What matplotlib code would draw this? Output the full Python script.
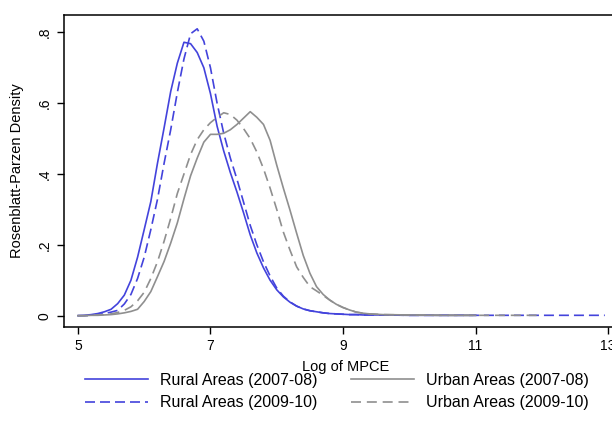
import matplotlib
matplotlib.use("Agg")
import matplotlib.pyplot as plt

# x grid (log of MPCE) and density values
x_body = [5.0, 5.1, 5.2, 5.3, 5.4, 5.5, 5.6, 5.7, 5.8, 5.9,
          6.0, 6.1, 6.2, 6.3, 6.4, 6.5, 6.6, 6.7, 6.8, 6.9,
          7.0, 7.1, 7.2, 7.3, 7.4, 7.5, 7.6, 7.7, 7.8, 7.9,
          8.0, 8.1, 8.2, 8.3, 8.4, 8.5, 8.6, 8.7, 8.8, 8.9,
          9.0, 9.1, 9.2, 9.3, 9.4, 9.6, 10.0, 10.5, 11.0]

rural_0708 = [0.000, 0.001, 0.003, 0.006, 0.011, 0.018, 0.034, 0.058, 0.100, 0.165,
              0.243, 0.322, 0.430, 0.530, 0.633, 0.713, 0.772, 0.768, 0.743, 0.700,
              0.627, 0.535, 0.465, 0.404, 0.349, 0.290, 0.228, 0.177, 0.135, 0.100,
              0.073, 0.053, 0.038, 0.027, 0.019, 0.014, 0.011, 0.008, 0.006, 0.005,
              0.004, 0.003, 0.003, 0.002, 0.002, 0.002, 0.001, 0.001, 0.001]

rural_0910 = [0.000, 0.000, 0.001, 0.003, 0.006, 0.010, 0.015, 0.033, 0.060, 0.105,
              0.165, 0.243, 0.328, 0.430, 0.525, 0.630, 0.725, 0.796, 0.810, 0.775,
              0.700, 0.600, 0.515, 0.445, 0.385, 0.320, 0.255, 0.200, 0.152, 0.112,
              0.078, 0.055, 0.039, 0.027, 0.019, 0.014, 0.011, 0.008, 0.006, 0.005,
              0.004, 0.003, 0.003, 0.002, 0.002, 0.002, 0.001, 0.001, 0.001]

urban_0708 = [0.000, 0.000, 0.001, 0.001, 0.002, 0.003, 0.005, 0.008, 0.012, 0.018,
              0.040, 0.068, 0.110, 0.153, 0.205, 0.262, 0.330, 0.395, 0.445, 0.490,
              0.512, 0.512, 0.515, 0.525, 0.540, 0.558, 0.576, 0.560, 0.540, 0.495,
              0.425, 0.360, 0.298, 0.233, 0.170, 0.120, 0.082, 0.060, 0.044, 0.032,
              0.023, 0.016, 0.010, 0.007, 0.005, 0.003, 0.002, 0.001, 0.001]

urban_0910 = [0.000, 0.000, 0.001, 0.002, 0.003, 0.005, 0.009, 0.015, 0.025, 0.042,
              0.066, 0.105, 0.152, 0.210, 0.275, 0.345, 0.400, 0.455, 0.497, 0.525,
              0.545, 0.560, 0.573, 0.568, 0.552, 0.528, 0.500, 0.462, 0.415, 0.360,
              0.300, 0.236, 0.185, 0.138, 0.108, 0.082, 0.070, 0.057, 0.044, 0.032,
              0.023, 0.016, 0.010, 0.007, 0.005, 0.003, 0.002, 0.001, 0.001]

# far right tails
x_tail_rural09 = [11.0, 11.5, 12.0, 12.5, 12.95]
y_tail_rural09 = [0.001, 0.001, 0.001, 0.001, 0.001]
x_tail_urban09 = [11.0, 11.5, 12.0]
y_tail_urban09 = [0.001, 0.001, 0.001]

x_ticks = [5, 7, 9, 11, 13]
y_ticks = [0, 0.2, 0.4, 0.6, 0.8]
y_ticklabels = ["0", ".2", ".4", ".6", ".8"]

labels = ["Rural Areas (2007-08)", "Rural Areas (2009-10)",
          "Urban Areas (2007-08)", "Urban Areas (2009-10)"]

plt.rcParams['font.family'] = ['Liberation Sans', 'DejaVu Sans']

W, H = 612, 434
fig = plt.figure(figsize=(W / 100, H / 100), dpi=100)
ax = fig.add_axes([64 / W, (H - 327) / H, 564 / W, 312 / H])

blue = '#4343dc'
gray = '#8f8f8f'
lw = 1.2

l1, = ax.plot(x_body, rural_0708, color=blue, lw=lw, ls='-')
l2, = ax.plot(x_body + x_tail_rural09, rural_0910 + y_tail_rural09,
              color=blue, lw=lw, ls=(0, (6, 3)))
l3, = ax.plot(x_body, urban_0708, color=gray, lw=lw, ls='-')
l4, = ax.plot(x_body + x_tail_urban09, urban_0910 + y_tail_urban09,
              color=gray, lw=lw, ls=(0, (6, 3.5)))

ax.set_xlim(4.79, 13.3)
ax.set_ylim(-0.032, 0.849)
ax.set_xticks(x_ticks)
ax.set_xticklabels([str(t) for t in x_ticks])
ax.set_yticks(y_ticks)
ax.set_yticklabels(y_ticklabels, rotation=90, va='center')
ax.tick_params(axis='both', direction='out', length=5, width=1, labelsize=10,
               colors='black', pad=4)
for s in ax.spines.values():
    s.set_linewidth(1.1)

ax.set_xlabel("Log of MPCE", fontsize=10.5, labelpad=5)
ax.set_ylabel("Rosenblatt-Parzen Density", fontsize=10.5, labelpad=10)

fig.legend([l1, l2, l3, l4], labels, ncol=2, loc='upper left',
           bbox_to_anchor=(85 / W, 1 - 373 / H), frameon=False,
           fontsize=11.5, handlelength=3.95, handletextpad=0.75,
           columnspacing=2.1, labelspacing=0.45, borderaxespad=0, borderpad=0)

fig.savefig("out.png", dpi=100)
